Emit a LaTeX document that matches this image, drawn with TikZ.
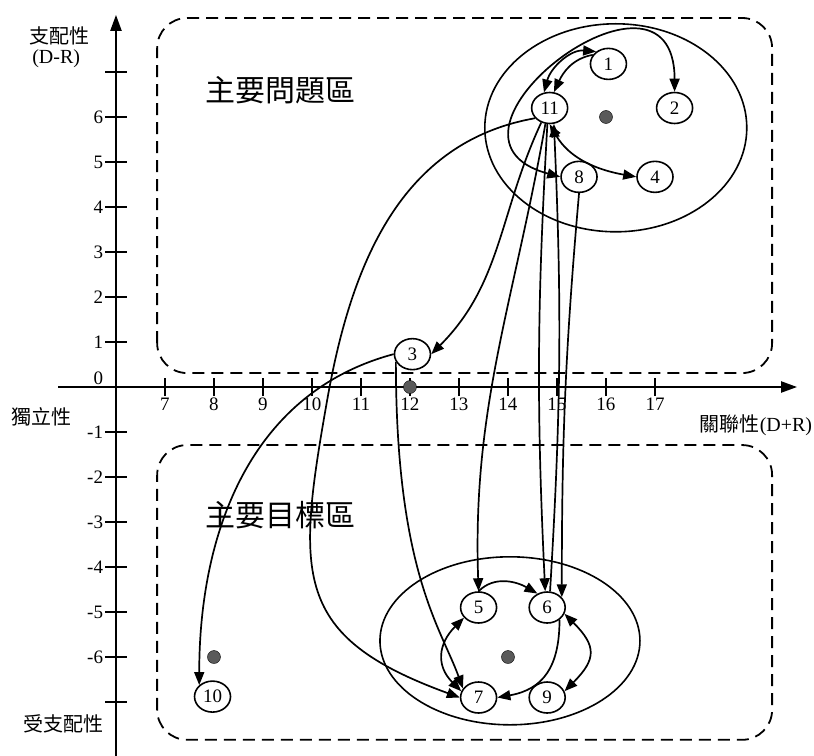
\documentclass[tikz,border=0pt]{standalone}
\usepackage{fontspec}
\setmainfont{Liberation Serif}
\newfontfamily\cjk{Noto Sans CJK TC}
\definecolor{dotgray}{RGB}{90,90,90}
\usetikzlibrary{arrows.meta,shapes.geometric}

\begin{document}
\begin{tikzpicture}[x=49pt,y=45pt,
          factor/.style={ellipse,draw,line width=1.6pt,fill=white,minimum width=36pt,
                         minimum height=31pt,inner sep=0pt,font=\fontsize{19}{19}\selectfont},
          link/.style={-{Triangle[length=13pt,width=10pt]},line width=1.7pt},
          twoway/.style={{Triangle[length=13pt,width=10pt]}-{Triangle[length=13pt,width=10pt]},line width=1.7pt},
          zone/.style={draw,dash pattern=on 12pt off 7pt,line width=1.8pt,rounded corners=30pt},
          axisline/.style={line width=2.2pt,-{Triangle[length=16pt,width=11pt]}},
          centroid/.style={circle,draw=black,fill=dotgray,minimum size=13pt,inner sep=0pt},
          axislabel/.style={font=\cjk\fontsize{20}{22}\selectfont},
          zonelabel/.style={font=\cjk\fontsize{30}{32}\selectfont},
          ticklabel/.style={font=\fontsize{19}{19}\selectfont,inner sep=1pt}]
  \useasboundingbox (3.633,-8.178) rectangle (20.245,8.6);

  \draw[zone] (6.84,0.31) rectangle (19.39,8.2);
  \draw[zone] (6.84,-7.84) rectangle (19.39,-1.29);
  \node[zonelabel] (problem) at (9.35,6.6) {主要問題區};
  \node[zonelabel] (goal) at (9.35,-2.84) {主要目標區};

  \draw[axisline] (4.82,0) -- (19.9,0);
  \draw[axisline] (6,-8.2) -- (6,8.27);
  \foreach \y in {-7,...,7}
    \draw[line width=1.6pt] (5.78,\y) -- (6.22,\y);
  \foreach \y in {-6,-5,-4,-3,-2,-1,1,2,3,4,5,6}
    \node[ticklabel,anchor=east] (yl\y) at (5.76,\y) {\y};
  \node[ticklabel,anchor=east] (yl0) at (5.76,0.2) {0};
  \foreach \x in {7,...,17} {
    \draw[line width=1.6pt] (\x,-0.2) -- (\x,0.2);
    \node[ticklabel,anchor=north] (xl\x) at (\x,-0.22) {\x};
  }
  \node[axislabel] (dominance) at (4.84,7.8) {支配性};
  \node[ticklabel,font=\fontsize{20}{22}\selectfont] (dr) at (4.78,7.3) {(D-R)};
  \node[axislabel] (independent) at (4.49,-0.67) {獨立性};
  \node[axislabel] (dominated) at (4.92,-7.49) {受支配性};
  \node[axislabel] (relevance) at (19.06,-0.84) {關聯性{\rmfamily(D+R)}};

  \draw[line width=1.6pt] (16.2,5.76) ellipse [x radius=131pt,y radius=104pt];
  \draw[line width=1.6pt] (14.04,-5.64) ellipse [x radius=130pt,y radius=84pt];

  \node[centroid] (g1) at (16,6) {};
  \node[centroid] (g2) at (12,0) {};
  \node[centroid] (g3) at (14,-6) {};
  \node[centroid] (g4) at (8,-6) {};

  \node[factor] (n1) at (16.05,7.18) {1};
  \node[factor] (n2) at (17.4,6.2) {2};
  \node[factor] (n3) at (12.05,0.73) {3};
  \node[factor] (n4) at (17,4.67) {4};
  \node[factor] (n5) at (13.4,-4.9) {5};
  \node[factor] (n6) at (14.8,-4.9) {6};
  \node[factor] (n7) at (13.4,-6.9) {7};
  \node[factor] (n8) at (15.45,4.67) {8};
  \node[factor] (n9) at (14.8,-6.9) {9};
  \node[factor] (n10) at (7.97,-6.88) {10};
  \node[factor] (n11) at (14.85,6.2) {11};

  \draw[twoway] (n8.west) to[out=165,in=90,looseness=2.8] (n2.north);
  \draw[twoway] (n11.110) to[out=75,in=175] (n1.135);
  \draw[link] (n1.150) to[out=190,in=65] (n11.75);
  \draw[twoway] (n11.south) to[out=-60,in=170] (n4.west);
  \draw[link] (n11.240) to[out=-115,in=45] (n3.east);
  \coordinate (loopturn) at (10.31,-0.29);
  \draw[link] (n11.215) to[out=190,in=80] (loopturn) to[out=-100,in=160,looseness=1.4] (n7.west);
  \draw[link] (n11.255) to[out=-100,in=92] (n5.north);
  \draw[link] (n11.262) to[bend right=3] (n6.97);
  \draw[link] (n6.80) to[bend right=3] (n11.285);
  \draw[link] (n8.south) to[out=-95,in=90] (n6.35);
  \draw[link] (n3.west) to[out=195,in=90] (n10.north west);
  \draw[link] (n3.205) to[out=-90,in=110,out looseness=1.6,in looseness=0.5] (n7.150);
  \draw[link] (n5.north) to[out=45,in=150] (n6.125);
  \draw[twoway] (n7.160) to[out=135,in=225,looseness=1.26] (n5.215);
  \draw[twoway] (n6.-20) to[out=-45,in=45,looseness=1.5] (n9.20);
  \draw[link] (n6.-45) to[out=-90,in=10,looseness=1.2] (n7.east);
\end{tikzpicture}
\end{document}
